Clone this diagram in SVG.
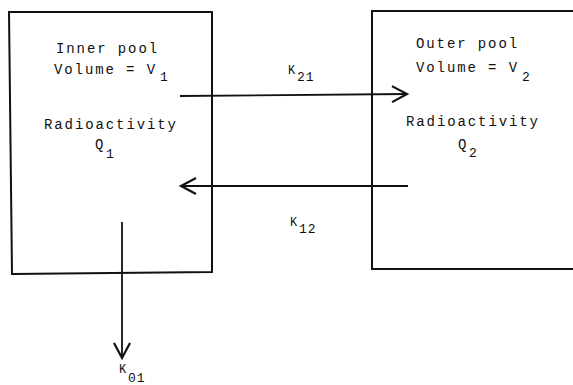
<svg xmlns="http://www.w3.org/2000/svg" width="573" height="385" viewBox="0 0 573 385">
  <style>
    .box { fill: none; stroke: #111; stroke-width: 2; }
    .conn { fill: none; stroke: #111; stroke-width: 1.8; }
    text { font-family: "Liberation Mono", "DejaVu Sans Mono", monospace; fill: #111; }
    .t { font-size: 14px; letter-spacing: 1.9px; }
    .sub { font-size: 13px; }
    .k { font-size: 12px; }
  </style>
  <defs>
    <marker id="chev" markerUnits="userSpaceOnUse" markerWidth="24" markerHeight="24" viewBox="-20 -12 24 24" refX="0" refY="0" orient="auto" overflow="visible">
      <path d="M-15,-8 L0,0 L-15,8" fill="none" stroke="#111" stroke-width="2.2"/>
    </marker>
  </defs>
  <rect width="573" height="385" fill="#fff"/>

  <g id="inner-pool">
    <path class="box" d="M9,12 H212 V272 L12,274 Z"/>
    <text class="t" x="56" y="53">Inner pool</text>
    <text class="t" x="54" y="74">Volume = V</text>
    <text class="sub" x="160" y="81">1</text>
    <text class="t" x="44" y="129">Radioactivity</text>
    <text class="t" x="95" y="149">Q</text>
    <text class="sub" x="106" y="158">1</text>
  </g>

  <g id="outer-pool">
    <path class="box" d="M575,11 H372 V269 H575"/>
    <text class="t" x="416" y="48">Outer pool</text>
    <text class="t" x="416" y="72">Volume = V</text>
    <text class="sub" x="522" y="81">2</text>
    <text class="t" x="406" y="126">Radioactivity</text>
    <text class="t" x="458" y="149">Q</text>
    <text class="sub" x="469" y="157">2</text>
  </g>

  <g id="connectors">
    <path class="conn" d="M180,96 L407,94" marker-end="url(#chev)"/>
    <path class="conn" d="M408,186 L181,186" marker-end="url(#chev)"/>
    <path class="conn" d="M122,222 L122,358" marker-end="url(#chev)"/>
    <text class="k" x="288" y="74">K</text>
    <text class="sub" x="297" y="81" letter-spacing="1">21</text>
    <text class="k" x="290" y="226">K</text>
    <text class="sub" x="299" y="233" letter-spacing="1">12</text>
    <text class="k" x="119" y="373">K</text>
    <text class="sub" x="128" y="382" letter-spacing="1">01</text>
  </g>
</svg>
